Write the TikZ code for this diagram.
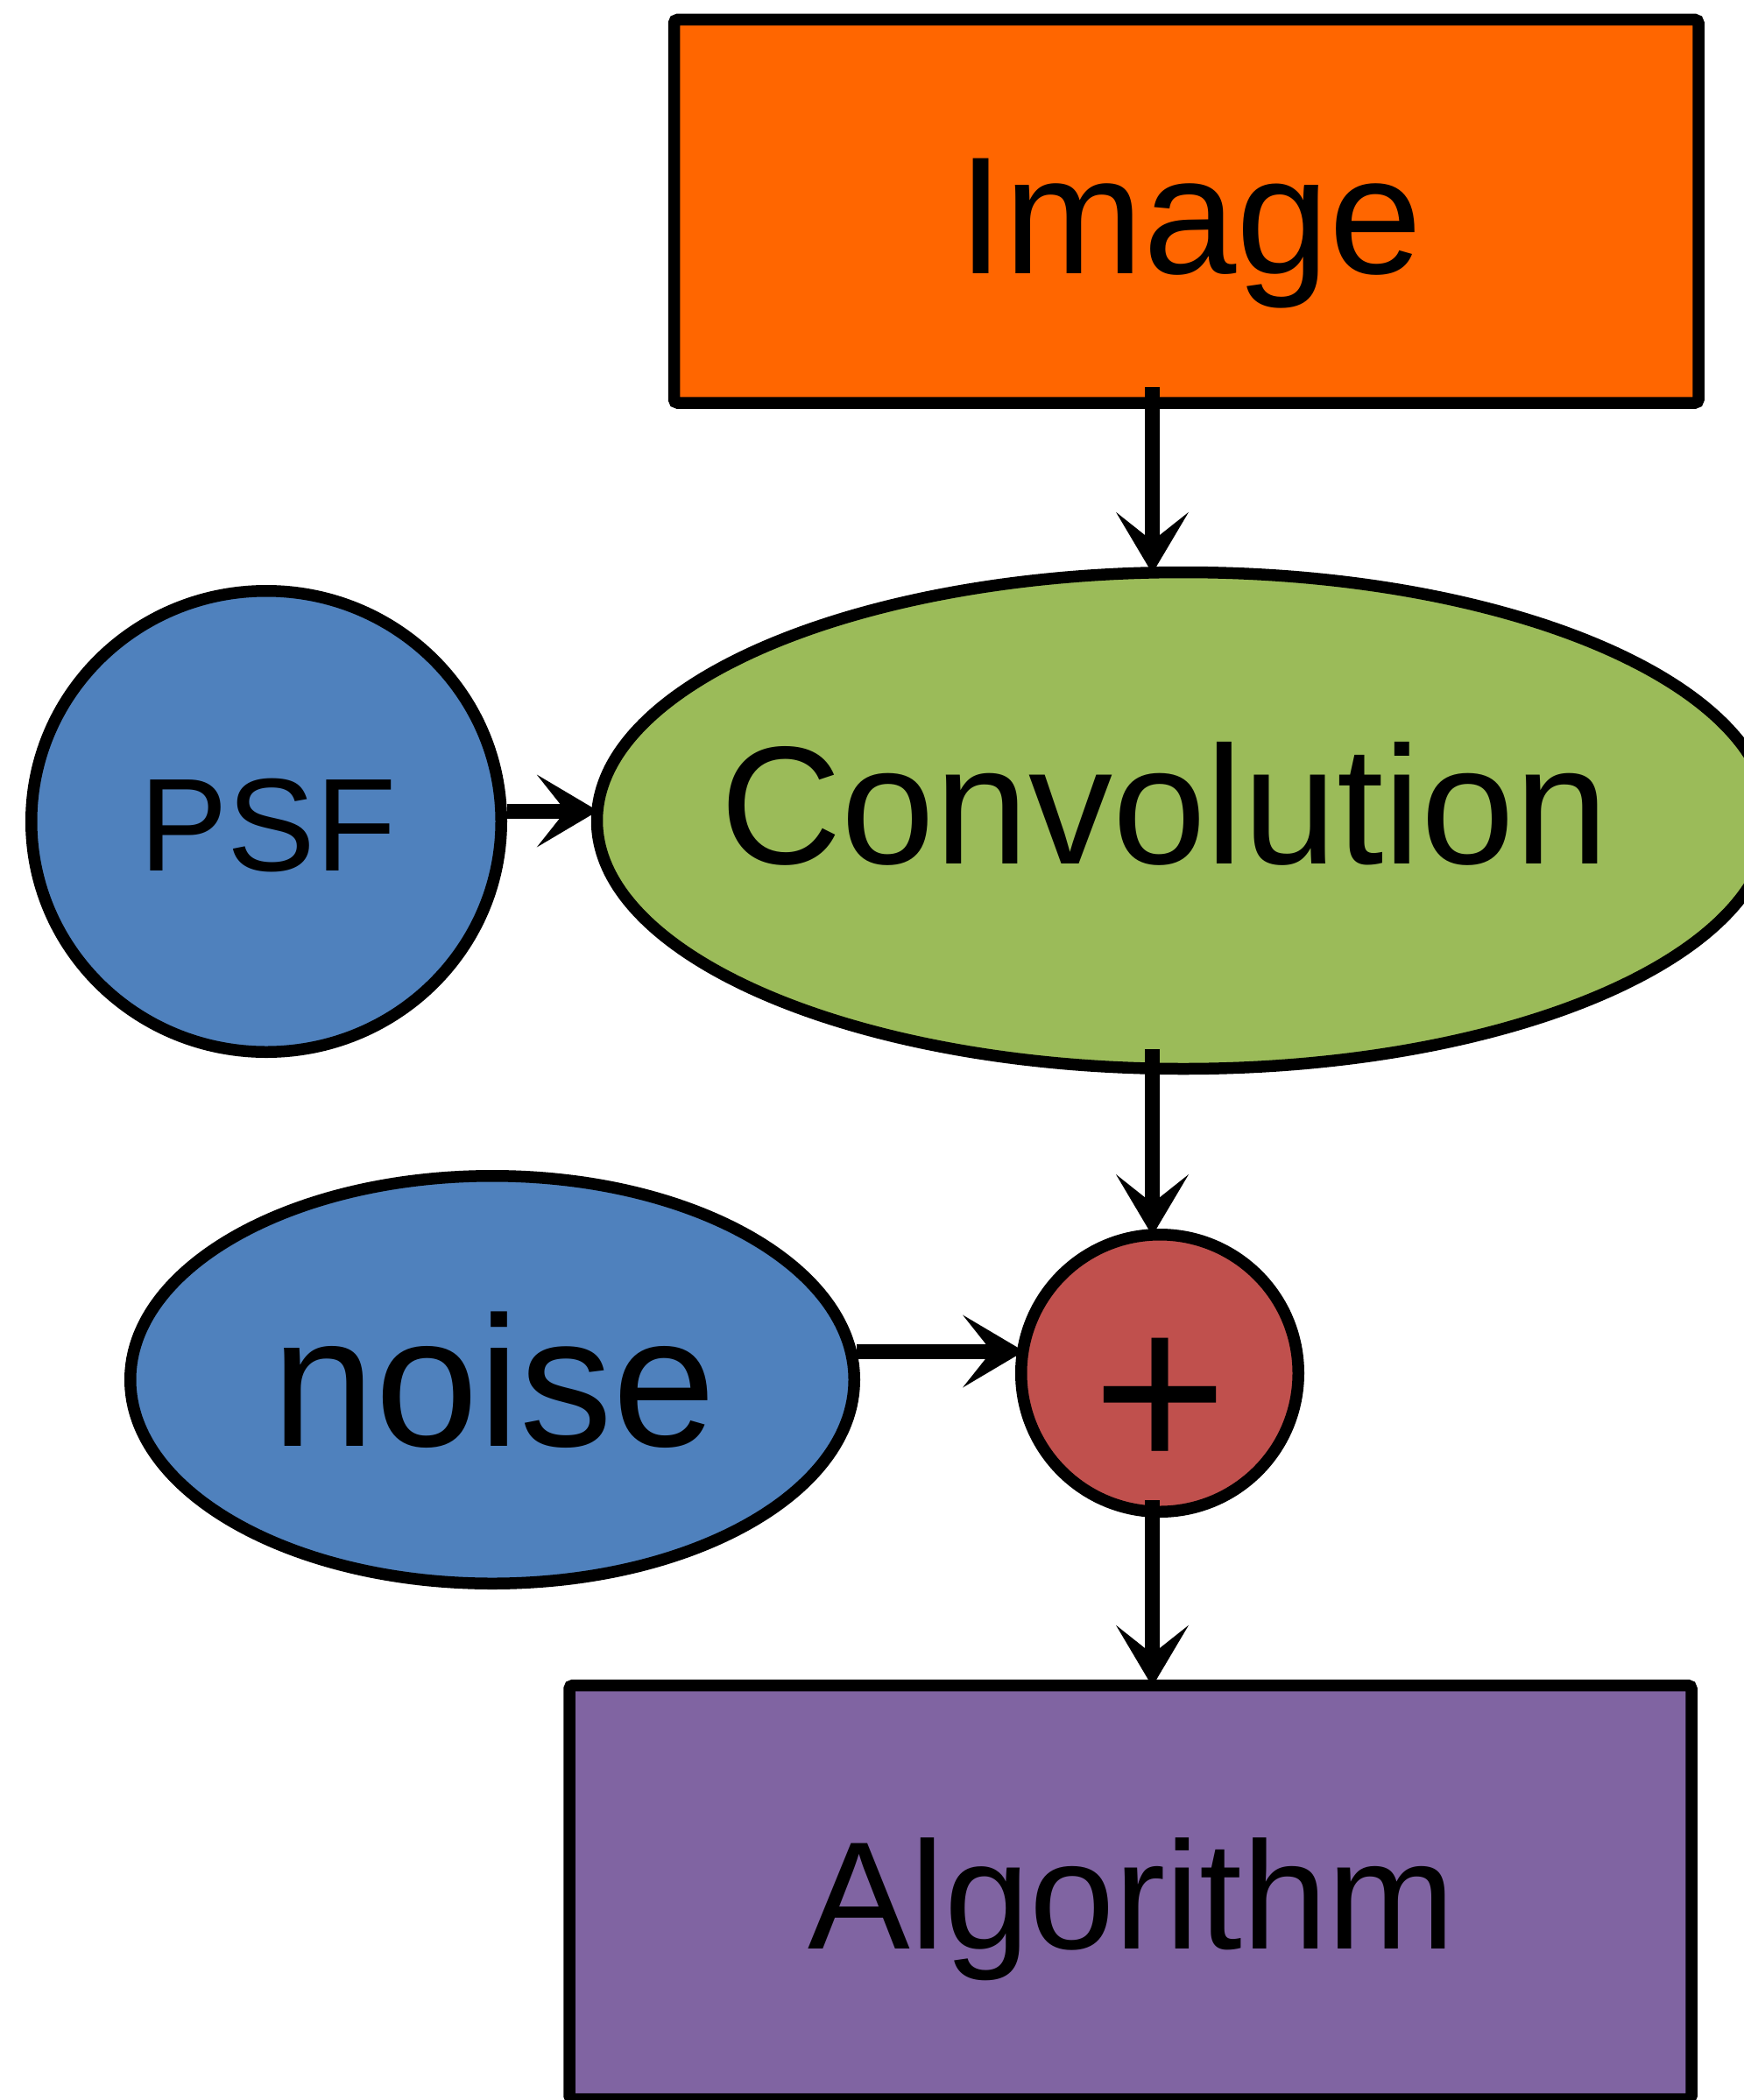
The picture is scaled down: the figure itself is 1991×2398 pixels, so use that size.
\documentclass[tikz,border=0pt]{standalone}
\usepackage{fontspec}
\setmainfont{Liberation Sans}
\usetikzlibrary{arrows.meta,shapes.geometric,calc}
\definecolor{cimg}{HTML}{FF6600}
\definecolor{cconv}{HTML}{9BBB59}
\definecolor{cblue}{HTML}{4F81BD}
\definecolor{cplus}{HTML}{C0504D}
\definecolor{calg}{HTML}{8064A2}
\begin{document}
\begin{tikzpicture}[x=0.5pt,y=-0.5pt,
  shapebox/.style={draw=black,line width=6.75pt,inner sep=0pt},
  rectbox/.style={shapebox,rectangle,rounded corners=2pt},
  ovalbox/.style={shapebox,ellipse},
  conn/.style={line width=8.5pt,shorten >=-4pt,-{Stealth[length=35pt,width=41.5pt,inset=16.5pt,line width=0pt]}},
  lbl/.style={anchor=base,inner sep=0pt}]
\useasboundingbox (0,0) rectangle (1991,2398);
\node[rectbox,fill=cimg,minimum width=584.75pt,minimum height=218.75pt] (img) at (1354.25,241.25) {};
\node[ovalbox,fill=cconv,minimum width=669.5pt,minimum height=283.5pt] (conv) at (1351,937) {};
\node[ovalbox,fill=cblue,minimum width=268.25pt,minimum height=263.25pt] (psf) at (304,938) {};
\node[ovalbox,fill=cblue,minimum width=413.25pt,minimum height=232.75pt] (noise) at (562,1575.5) {};
\node[shapebox,circle,fill=cplus,minimum size=158.25pt] (plus) at (1324,1568) {};
\node[rectbox,fill=calg,minimum width=640.5pt,minimum height=236.25pt] (alg) at (1290.5,2160.75) {};
\coordinate (ax) at (1315.5,0);
% labels
\node[lbl,font=\fontsize{95.5pt}{110pt}\selectfont] (imgt) at (1358.5,312) {Image};
\node[lbl,font=\fontsize{96pt}{110pt}\selectfont] (convt) at (1329,986) {Convolution};
\node[lbl,font=\fontsize{75.5pt}{90pt}\selectfont] (psft) at (306,994) {PSF};
\node[lbl,font=\fontsize{106pt}{120pt}\selectfont] (noiset) at (564,1651) {noise};
\node[lbl,font=\fontsize{132pt}{160pt}\selectfont] (plust) at (1325,1680) {+};
\node[lbl,font=\fontsize{87.5pt}{100pt}\selectfont] (algt) at (1292,2225) {Algorithm};
% connectors
\draw[conn] ($(img.south -| ax)+(0,-25)$) -- (conv.north -| ax);
\draw[conn] ($(conv.south -| ax)+(0,-29)$) -- (plus.north -| ax);
\draw[conn] ($(plus.south -| ax)+(0,-20)$) -- (alg.north -| ax);
\draw[conn] ($(psf.east)+(0,-12)$) -- ($(conv.west)+(0,-11)$);
\draw[conn] ($(noise.east)+(-4,-32.5)$) -- ($(plus.west)+(2,-25)$);
\end{tikzpicture}
\end{document}
